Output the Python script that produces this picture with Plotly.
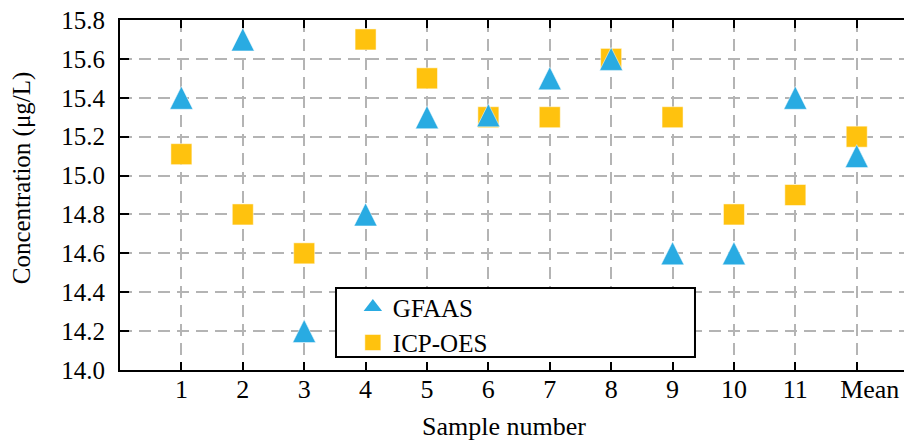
import plotly.graph_objects as go

samples = [1, 2, 3, 4, 5, 6, 7, 8, 9, 10, 11, 12]
tick_labels = ["1", "2", "3", "4", "5", "6", "7", "8", "9", "10", "11", "\u2002\u2002Mean"]
gfaas = [15.4, 15.7, 14.2, 14.8, 15.3, 15.31, 15.5, 15.6, 14.6, 14.6, 15.4, 15.1]
icp_oes = [15.11, 14.8, 14.6, 15.7, 15.5, 15.3, 15.3, 15.6, 15.3, 14.8, 14.9, 15.2]
y_ticks = [14.0, 14.2, 14.4, 14.6, 14.8, 15.0, 15.2, 15.4, 15.6, 15.8]

BLUE = "#29ABE2"
GOLD = "#FFC20E"
FONT = "Liberation Serif, Times New Roman, Times, serif"
FS = 25

fig = go.Figure()
# legend-only entry for GFAAS (plain triangle symbol, drawn in the legend)
fig.add_trace(go.Scatter(
    x=[None], y=[None], mode="markers", name="GFAAS",
    marker=dict(symbol="triangle-up", size=22, color=BLUE),
))
fig.add_trace(go.Scatter(
    x=samples, y=icp_oes, mode="markers", name="ICP-OES",
    marker=dict(symbol="square", size=21, color=GOLD,
                line=dict(width=0.5, color="white")),
))
fig.add_trace(go.Scatter(
    x=samples, y=gfaas, mode="markers", name="GFAAS", showlegend=False,
    marker=dict(symbol="arrow-down", angle=180, size=23, standoff=11.5,
                color=BLUE, line=dict(width=0.5, color="white")),
))

# legend frame (wider than plotly's auto legend box)
fig.add_shape(type="rect", xref="paper", yref="paper",
              x0=0.2755, x1=0.7334, y0=0.037, y1=0.234,
              line=dict(color="black", width=2), fillcolor="white",
              layer="above")

fig.add_annotation(text="Sample number", xref="paper", yref="paper",
                   x=0.4898, y=-0.16, xanchor="center", yanchor="middle",
                   showarrow=False, font=dict(family=FONT, size=26))
fig.add_annotation(text="Concentration (μg/L)", xref="paper", yref="paper",
                   x=-0.124, y=0.55, xanchor="center", yanchor="middle",
                   textangle=-90, showarrow=False,
                   font=dict(family=FONT, size=FS))

fig.update_layout(
    width=904, height=441,
    margin=dict(l=120, r=0, t=20, b=71),
    paper_bgcolor="white", plot_bgcolor="white",
    font=dict(family=FONT, size=FS, color="black"),
    showlegend=True,
    legend=dict(
        x=0.297, y=0.245, xanchor="left", yanchor="top",
        bgcolor="rgba(0,0,0,0)", borderwidth=0,
        font=dict(family=FONT, size=FS, color="black"),
        itemsizing="trace", tracegroupgap=0,
    ),
    xaxis=dict(
        range=[0, 12.77], automargin=False,
        tickmode="array", tickvals=samples, ticktext=tick_labels,
        ticks="inside", ticklen=8, tickwidth=2, tickcolor="black",
        showline=True, linecolor="black", linewidth=2, mirror="ticks",
        showgrid=True, gridcolor="#b4b4b4", gridwidth=2, griddash="12px,7px",
        zeroline=False, ticklabelstandoff=-5,
        tickfont=dict(family=FONT, size=26),
    ),
    yaxis=dict(
        range=[14.0, 15.8], automargin=False,
        tickmode="array", tickvals=y_ticks,
        ticktext=[f"{v:.1f}" for v in y_ticks],
        ticks="inside", ticklen=9, tickwidth=2, tickcolor="black",
        showline=True, linecolor="black", linewidth=2, mirror=False,
        showgrid=True, gridcolor="#b4b4b4", gridwidth=2, griddash="12px,7px",
        zeroline=False,
        ticklabelstandoff=8,
        tickfont=dict(family=FONT, size=FS),
    ),
)

fig.write_html("out.html", config={"displayModeBar": False},
               post_script="document.body.style.margin='0';")
